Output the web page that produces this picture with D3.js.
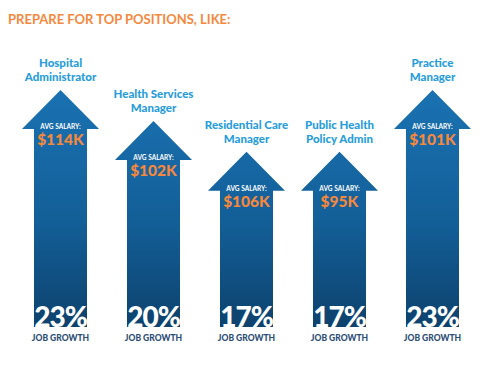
<!DOCTYPE html>
<html>
<head>
<meta charset="utf-8">
<script src="https://cdn.jsdelivr.net/npm/d3@7"></script>
<style>
  body { margin: 0; background: #fff; }
  svg { display: block; font-family: Lato, "Open Sans", sans-serif; }
</style>
</head>
<body>
<div id="chart"></div>
<script>
// data
var titleLines = [
    ["Hospital", "Administrator"],
    ["Health Services", "Manager"],
    ["Residential Care", "Manager"],
    ["Public Health", "Policy Admin"],
    ["Practice", "Manager"]
];
var categories = titleLines.map(function(d) { return d.join(" "); });
var salaries = [114, 102, 106, 95, 101];   // $K
var growth = [23, 20, 17, 17, 23];         // %

var width = 495, height = 373,
    baseY = 327,
    headH = 39,
    wing = 12;

var data = categories.map(function(c, i) {
    return { name: c, lines: titleLines[i], salary: salaries[i], growth: growth[i] };
});

var svg = d3.select("#chart").append("svg")
    .attr("width", width)
    .attr("height", height);

var defs = svg.append("defs");
var grad = defs.append("linearGradient")
    .attr("id", "arrowGrad")
    .attr("gradientUnits", "userSpaceOnUse")
    .attr("x1", 0).attr("y1", 90)
    .attr("x2", 0).attr("y2", baseY);
grad.append("stop").attr("offset", "0%").attr("stop-color", "#1a72b2");
grad.append("stop").attr("offset", "55%").attr("stop-color", "#135f98");
grad.append("stop").attr("offset", "100%").attr("stop-color", "#0d426d");

svg.append("text")
    .attr("x", 8)
    .attr("y", 24)
    .attr("fill", "#f5883c")
    .attr("font-size", 13)
    .attr("font-weight", 700)
    .text("PREPARE FOR TOP POSITIONS, LIKE:");

var x = d3.scaleBand()
    .domain(categories)
    .range([34, 459])
    .paddingInner(0.43)
    .paddingOuter(0);

var y = d3.scaleLinear()
    .domain([0, 23])
    .range([baseY, 90]);

function arrowPath(d) {
    var x0 = x(d.name), x1 = x0 + x.bandwidth(), cx = x0 + x.bandwidth() / 2,
        top = y(d.growth), hb = top + headH;
    return "M" + cx + "," + top +
        "L" + (x1 + wing) + "," + hb +
        "L" + x1 + "," + hb +
        "L" + x1 + "," + baseY +
        "L" + x0 + "," + baseY +
        "L" + x0 + "," + hb +
        "L" + (x0 - wing) + "," + hb + "Z";
}

var g = svg.selectAll(".pos")
    .data(data)
    .enter().append("g")
        .attr("class", "pos");

g.append("path")
    .attr("d", arrowPath)
    .attr("fill", "url(#arrowGrad)");

g.each(function(d) {
    var cx = x(d.name) + x.bandwidth() / 2,
        top = y(d.growth),
        el = d3.select(this);
    d.lines.forEach(function(line, i) {
        el.append("text")
            .attr("x", cx)
            .attr("y", top - 9 - (d.lines.length - 1 - i) * 14)
            .attr("text-anchor", "middle")
            .attr("fill", "#289dda")
            .attr("font-size", 11.5)
            .attr("font-weight", 900)
            .text(line);
    });
    el.append("text")
        .attr("x", cx)
        .attr("y", top + 39)
        .attr("text-anchor", "middle")
        .attr("fill", "#fff")
        .attr("font-size", 6.5)
        .attr("font-weight", 700)
        .text("AVG SALARY:");
    el.append("text")
        .attr("x", cx)
        .attr("y", top + 55)
        .attr("text-anchor", "middle")
        .attr("fill", "#f5883c")
        .attr("font-size", 15.5)
        .attr("font-weight", 900)
        .text("$" + d.salary + "K");
    el.append("text")
        .attr("x", cx)
        .attr("y", baseY)
        .attr("text-anchor", "middle")
        .attr("fill", "#fff")
        .attr("font-size", 28)
        .attr("font-weight", 900)
        .attr("letter-spacing", -1)
        .text(d.growth + "%");
    el.append("text")
        .attr("x", cx)
        .attr("y", baseY + 14)
        .attr("text-anchor", "middle")
        .attr("fill", "#2c4e75")
        .attr("font-size", 8.5)
        .attr("font-weight", 900)
        .text("JOB GROWTH");
});
</script>
</body>
</html>
